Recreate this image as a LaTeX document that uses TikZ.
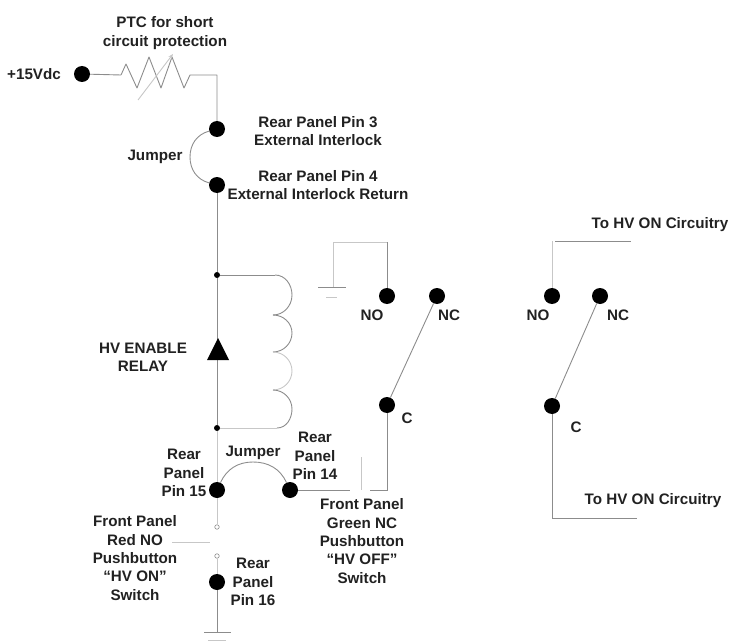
\documentclass[tikz,border=0pt]{standalone}
\usepackage{fontspec}
\setmainfont{Liberation Sans}
\usetikzlibrary{arrows.meta}
\definecolor{wire}{gray}{0.55}
\definecolor{wirefaint}{gray}{0.78}
\definecolor{ink}{gray}{0.13}
\tikzset{
  pin/.style={circle,fill=black,draw=none,inner sep=0pt,minimum size=16pt},
  tiny dot/.style={circle,fill=black,draw=none,inner sep=0pt,minimum size=6pt},
  open dot/.style={circle,draw=wire,fill=white,line width=.6pt,inner sep=0pt,minimum size=4.5pt},
  wireline/.style={draw=wire,line width=.9pt},
  faint/.style={draw=wirefaint,line width=.9pt},
  lbl/.style={font=\fontsize{15.2}{18.3}\selectfont\bfseries,text=ink,align=center,inner sep=0pt},
}
\begin{document}
\begin{tikzpicture}[x=1pt,y=-1pt]
\useasboundingbox (0,0) rectangle (729,642);
% pins
\node[pin] (vin) at (82,74) {};
\node[pin] (p3) at (217,129) {};
\node[pin] (p4) at (217,185) {};
\node[tiny dot] (ct) at (217,275) {};
\node[tiny dot] (cb) at (217,428) {};
\node[pin] (p15) at (217,490) {};
\node[pin] (p14) at (290,490) {};
\node[pin] (p16) at (217,582) {};
\node[open dot] (sa) at (217,527) {};
\node[open dot] (sb) at (217,556) {};
\node[pin] (no1) at (387,296) {};
\node[pin] (nc1) at (437,296) {};
\node[pin] (c1) at (387,405) {};
\node[pin] (no2) at (552,296) {};
\node[pin] (nc2) at (600,296) {};
\node[pin] (c2) at (552,406) {};
% coordinates
\coordinate (ra) at (121,75);
\coordinate (rb) at (190,75);
\coordinate (rc) at (217,75);
\coordinate (ca) at (275,275);
\coordinate (c12) at (273,315);
\coordinate (c23) at (273,352);
\coordinate (c34) at (273,390);
\coordinate (cz) at (277,428);
\coordinate (gnd1) at (217,632);
\coordinate (g2) at (333,287);
\coordinate (g2t) at (333,242);
\coordinate (g2r) at (387,242);
\coordinate (c1b) at (387,490);
\coordinate (c1l) at (370,490);
\coordinate (p14r) at (350,490);
\coordinate (c2b) at (552,518);
\coordinate (c2r) at (637,518);
\coordinate (top2a) at (555,241);
\coordinate (top2b) at (631,241);
% wires
\draw[wireline] (vin) -- (ra);
\draw[wireline,line join=round] (ra) -- (126,64) -- (137,88) -- (149,57) -- (161,88) -- (172,57) -- (184,88) -- (rb) -- (rc) -- (p3);
\draw[faint,-{Stealth[length=5pt,width=4pt]}] (138,100) -- (173,54);
\draw[wireline] (p3) to[out=195,in=90] (190,157) to[out=-90,in=165] (p4);
\draw[wireline] (p4) -- (ct) -- (cb);
\draw[wireline] (ct) -- (ca);
\draw[wireline] (ca) to[out=0,in=90] (292,295) to[out=-90,in=0] (c12);
\draw[wireline] (c12) to[out=0,in=90] (292,333) to[out=-90,in=0] (c23);
\draw[faint] (c23) to[out=0,in=90] (292,371) to[out=-90,in=0] (c34);
\draw[wireline] (c34) to[out=0,in=90] (292,409) to[out=-90,in=0] (cz);
\draw[faint] (cb) -- (cz);
\draw[faint] (cb) -- (p15);
\draw[wireline] (p15) to[out=65,in=180] (253,462) to[out=0,in=115] (p14);
\draw[faint] (p15) -- (sa);
\draw[faint] (172,542) -- (210,542);
\draw[faint] (sb) -- (p16);
\draw[wireline] (p16) -- (gnd1);
\draw[wireline] (204,632) -- (231,632);
\draw[faint] (208,640) -- (226,640);
% relay contact 1
\draw[faint] (g2) -- (g2t) -- (g2r);
\draw[wireline] (g2r) -- (no1);
\draw[wireline] (318,287) -- (346,287);
\draw[faint] (326,297) -- (337,297);
\draw[wireline] (nc1) -- (c1);
\draw[wireline] (c1) -- (c1b) -- (c1l);
\draw[wireline] (p14) -- (p14r);
\draw[faint] (361,457) -- (361,490);
% relay contact 2
\draw[wireline] (nc2) -- (c2);
\draw[wireline] (c2) -- (c2b) -- (c2r);
\draw[wireline] (top2a) -- (top2b);
\draw[wirefaint,line width=.6pt] (552,241) -- (no2);
% triangle
\fill[black] (218,338) -- (229,360) -- (207,360) -- cycle;
% labels
\node[lbl] (t1) at (165,33) {PTC for short\\circuit protection};
\node[lbl,anchor=west] (t2) at (7,74) {+15Vdc};
\node[lbl] (t3) at (318,131) {Rear Panel Pin 3\\External Interlock};
\node[lbl] (t4) at (155,157) {Jumper};
\node[lbl] (t5) at (318,185) {Rear Panel Pin 4\\External Interlock Return};
\node[lbl] (t6) at (143,357) {HV ENABLE\\RELAY};
\node[lbl] (t7) at (372,315) {NO};
\node[lbl] (t8) at (449,315) {NC};
\node[lbl] (t9) at (407,418) {C};
\node[lbl] (t10) at (538,315) {NO};
\node[lbl] (t11) at (618,315) {NC};
\node[lbl] (t12) at (576,427) {C};
\node[lbl] (t13) at (660,225) {To HV ON Circuitry};
\node[lbl] (t14) at (653,501) {To HV ON Circuitry};
\node[lbl] (t15) at (184,473) {Rear\\Panel\\Pin 15};
\node[lbl] (t16) at (253,453) {Jumper};
\node[lbl] (t17) at (315,456) {Rear\\Panel\\Pin 14};
\node[lbl] (t18) at (362,541) {Front Panel\\Green NC\\Pushbutton\\“HV OFF”\\Switch};
\node[lbl] (t19) at (135,558) {Front Panel\\Red NO\\Pushbutton\\“HV ON”\\Switch};
\node[lbl] (t20) at (253,582) {Rear\\Panel\\Pin 16};
\end{tikzpicture}
\end{document}
